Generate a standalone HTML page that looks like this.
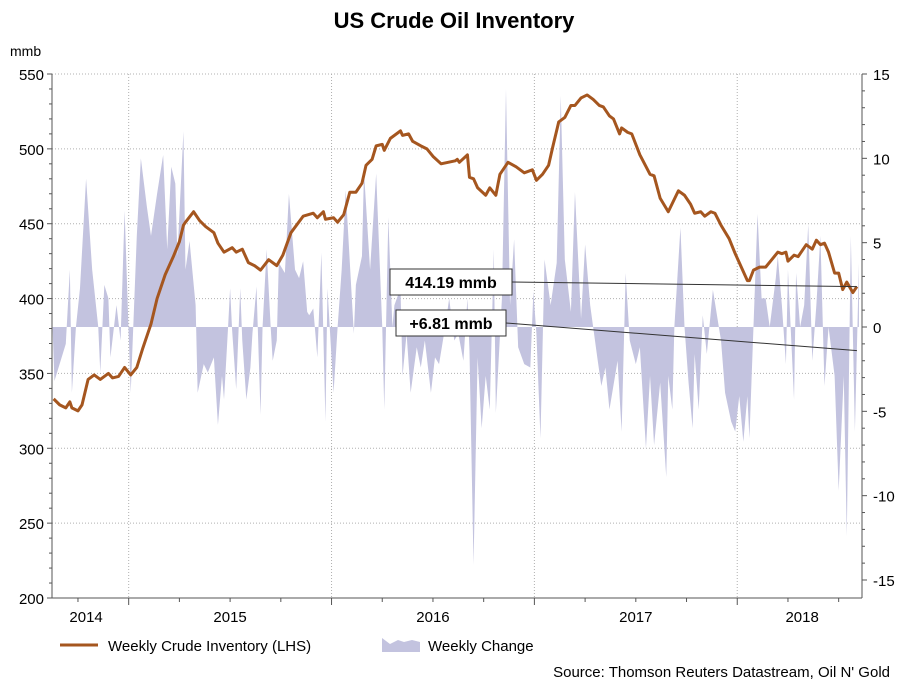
<!DOCTYPE html>
<html><head><meta charset="utf-8"><style>
body{margin:0;background:#fff;}
svg{display:block;font-family:"Liberation Sans",Arial,sans-serif;}
</style></head><body>
<svg id="chart" width="909" height="682" viewBox="0 0 909 682">
<text x="454" y="28" text-anchor="middle" font-size="22" font-weight="bold">US Crude Oil Inventory</text>
<text x="10" y="56" font-size="14">mmb</text>
<g id="grid"></g><g id="area"></g><g id="line"></g><g id="axes"></g><g id="annot"></g>
<g>
<line x1="60" y1="645" x2="98" y2="645" stroke="#a5561f" stroke-width="3"/>
<text x="108" y="651" font-size="15">Weekly Crude Inventory (LHS)</text>
<polygon points="382,652 382,638 390,644 398,640 404,642 412,640 420,642 420,652" fill="#c3c3df"/>
<text x="428" y="651" font-size="15">Weekly Change</text>
</g>
<text x="890" y="677" text-anchor="end" font-size="15">Source: Thomson Reuters Datastream, Oil N' Gold</text>
</svg>
<script>
const invDates=[2014.63,2014.66,2014.69,2014.71,2014.72,2014.75,2014.77,2014.80,2014.83,2014.86,2014.90,2014.92,2014.95,2014.98,2015.01,2015.04,2015.07,2015.11,2015.14,2015.18,2015.22,2015.25,2015.27,2015.28,2015.32,2015.35,2015.38,2015.42,2015.44,2015.47,2015.51,2015.53,2015.56,2015.59,2015.62,2015.65,2015.69,2015.73,2015.76,2015.80,2015.86,2015.91,2015.93,2015.96,2015.97,2016.01,2016.03,2016.06,2016.09,2016.12,2016.15,2016.17,2016.20,2016.22,2016.25,2016.26,2016.29,2016.34,2016.35,2016.38,2016.40,2016.44,2016.47,2016.50,2016.54,2016.61,2016.62,2016.63,2016.67,2016.68,2016.70,2016.72,2016.76,2016.78,2016.81,2016.83,2016.87,2016.91,2016.95,2016.99,2017.01,2017.04,2017.07,2017.09,2017.12,2017.15,2017.18,2017.20,2017.23,2017.26,2017.29,2017.32,2017.34,2017.37,2017.39,2017.42,2017.43,2017.46,2017.48,2017.52,2017.57,2017.59,2017.62,2017.66,2017.71,2017.74,2017.77,2017.79,2017.82,2017.84,2017.87,2017.89,2017.92,2017.96,2017.99,2018.02,2018.05,2018.06,2018.08,2018.11,2018.14,2018.17,2018.20,2018.22,2018.24,2018.25,2018.28,2018.30,2018.34,2018.37,2018.39,2018.41,2018.43,2018.45,2018.48,2018.50,2018.52,2018.54,2018.57,2018.59];
const invValues=[333,329,327,331,327,325,329,346,349,346,350,347,348,354,349,354,367,383,400,416,428,438,449,451,458,452,448,444,437,431,434,431,433,424,422,419,426,422,429,444,455,457,454,458,453,454,451,456,471,471,477,489,493,502,503,499,507,512,509,510,505,502,500,495,490,492,493,491,496,481,480,474,469,474,469,483,491,488,484,486,479,483,489,501,518,521,529,529,534,536,533,529,528,522,520,510,514,511,510,496,483,482,467,458,472,469,463,457,458,455,458,457,449,440,430,421,412,412,419,421,421,426,431,430,431,425,429,428,436,433,439,436,437,431,417,417,406,411,404,408];
const chgDates=[2014.625,2014.634,2014.69,2014.71,2014.72,2014.74,2014.76,2014.79,2014.82,2014.85,2014.86,2014.88,2014.90,2014.91,2014.94,2014.96,2014.98,2015.00,2015.01,2015.04,2015.06,2015.09,2015.11,2015.14,2015.17,2015.19,2015.21,2015.23,2015.24,2015.27,2015.28,2015.30,2015.33,2015.34,2015.37,2015.39,2015.42,2015.44,2015.46,2015.47,2015.49,2015.50,2015.51,2015.53,2015.55,2015.56,2015.58,2015.60,2015.61,2015.63,2015.65,2015.66,2015.68,2015.70,2015.71,2015.73,2015.74,2015.77,2015.79,2015.82,2015.84,2015.86,2015.88,2015.89,2015.91,2015.93,2015.95,2015.97,2015.98,2016.01,2016.03,2016.05,2016.07,2016.11,2016.12,2016.15,2016.16,2016.19,2016.22,2016.25,2016.26,2016.28,2016.30,2016.31,2016.34,2016.35,2016.37,2016.39,2016.42,2016.44,2016.46,2016.49,2016.51,2016.53,2016.56,2016.58,2016.605,2016.625,2016.65,2016.67,2016.68,2016.70,2016.72,2016.74,2016.76,2016.78,2016.80,2016.81,2016.84,2016.86,2016.88,2016.90,2016.92,2016.95,2016.98,2016.995,2017.01,2017.03,2017.05,2017.08,2017.11,2017.13,2017.15,2017.18,2017.20,2017.23,2017.25,2017.275,2017.31,2017.33,2017.35,2017.37,2017.41,2017.43,2017.45,2017.47,2017.50,2017.52,2017.55,2017.57,2017.59,2017.62,2017.65,2017.66,2017.68,2017.69,2017.72,2017.74,2017.76,2017.78,2017.79,2017.81,2017.83,2017.85,2017.88,2017.92,2017.94,2017.97,2017.99,2018.01,2018.03,2018.05,2018.06,2018.08,2018.10,2018.12,2018.14,2018.16,2018.19,2018.20,2018.22,2018.24,2018.25,2018.28,2018.29,2018.31,2018.33,2018.35,2018.37,2018.39,2018.41,2018.43,2018.45,2018.48,2018.50,2018.525,2018.54,2018.56,2018.58,2018.60];
const chgValues=[0,-3.2,-1,3.4,-3.9,0,2.3,8.8,3.4,0,-2.7,2.5,1.7,-1.8,1.3,-0.8,6.9,-0.4,-3.9,5.4,10,7.1,5.4,7.9,10.2,4.6,9.5,8.5,4.2,11.6,3.4,5.1,1.3,-3.9,-2.2,-2.7,-1.8,-5.8,-2.9,-4.3,0,2.3,-0.2,-3.7,2.3,-0.8,-4.3,-2.4,-0.4,2.4,-5.2,0,4.6,0,-2.0,-0.8,3.8,3.2,7.9,3.4,2.9,3.9,0.9,0.7,1.1,-1.8,4.4,-5.6,2.3,-3.9,0,3.4,8.1,-0.4,2.5,4.2,9.2,3.4,9.1,0,-4.9,6.5,0,1.3,2.3,-2.9,-0.4,-3.9,-1.2,-2.4,-0.8,-3.9,-1.8,-2.2,0,1.7,-0.8,-0.4,-2,1.7,-1.4,-14.1,-1.8,-6.0,-2.9,-4.9,4.6,-5.1,1.7,14.1,1.3,5.2,-1.2,-2.2,-2.4,2.1,-0.4,-6.6,4.0,1.3,3.8,13.7,4.0,0.9,8.0,0.5,4.9,1.3,-1.8,-3.5,-2.4,-4.9,-2,-6.2,3.2,-0.8,-2.2,-1.2,-7.2,-2.9,-7.0,-3.3,-8.9,-2.9,-4.9,0,5.9,0,-3.3,-6.0,-1.6,-4.9,0.7,-1.6,2.2,-0.8,-3.9,-5.6,-6.2,-4.1,-6.8,-4.1,-6.6,0,6.7,1.7,1.7,0,2.9,4.2,1.3,-2.2,3.4,-4.3,3.2,0,1.3,6.1,-2,1.3,5.4,-3.5,0,-2.9,-9.7,-2.9,-12.4,5.4,-6.2,3.8,-1];
const leftTicks=[200,250,300,350,400,450,500,550];
const rightTicks=[-15,-10,-5,0,5,10,15];
const yearLabels=["2014","2015","2016","2017","2018"];
const yearLabelPos=[2014.79,2015.5,2016.5,2017.5,2018.32];
const yearBounds=[2015,2016,2017,2018];
const lastInventory="414.19 mmb", lastChange="+6.81 mmb";

const X0=52,X1=862,YT=74,YB=598;
const tMin=2014.622,tMax=2018.615;
const xs=t=>X0+(t-tMin)/(tMax-tMin)*(X1-X0);
const yL=v=>YB-(v-200)/(550-200)*(YB-YT);
const yR=v=>327-v*(327-74)/15;
const NS="http://www.w3.org/2000/svg";
function mk(tag,attrs,parent){const e=document.createElementNS(NS,tag);for(const k in attrs)e.setAttribute(k,attrs[k]);document.getElementById(parent).appendChild(e);return e;}

// grid
leftTicks.forEach(v=>{if(v===200)return;
 const g=mk('line',{x1:X0,x2:X1,y1:yL(v),y2:yL(v),stroke:'#b0b0b0','stroke-dasharray':'1,2'},'grid');
 
 });
yearBounds.forEach(t=>{
 const g=mk('line',{x1:xs(t),x2:xs(t),y1:YT,y2:YB,stroke:'#b0b0b0','stroke-dasharray':'1,2'},'grid');
 
 });

// area
let pts=[xs(chgDates[0])+','+yR(0)];
chgDates.forEach((t,i)=>pts.push(xs(t)+','+yR(chgValues[i])));
pts.push(xs(chgDates[chgDates.length-1])+','+yR(0));
const ar=mk('polygon',{points:pts.join(' '),fill:'#c3c3df'},'area');



// line
const lp=invDates.map((t,i)=>xs(t)+','+yL(invValues[i])).join(' ');
const ln=mk('polyline',{points:lp,fill:'none',stroke:'#a5561f','stroke-width':3,'stroke-linejoin':'round'},'line');



// axes
const axl=mk('line',{x1:X0,x2:X0,y1:YT,y2:YB,stroke:'#555'},'axes');


const axr=mk('line',{x1:X1,x2:X1,y1:YT,y2:YB,stroke:'#555'},'axes');


const axb=mk('line',{x1:X0,x2:X1,y1:YB,y2:YB,stroke:'#555'},'axes');


for(let v=200;v<=550;v+=10){mk('line',{x1:X0-(v%50?3:5),x2:X0,y1:yL(v),y2:yL(v),stroke:'#555'},'axes');}
leftTicks.forEach(v=>{const t=mk('text',{x:X0-8,y:yL(v)+6,'text-anchor':'end','font-size':15},'axes');t.textContent=v;
 
 });
for(let v=-15;v<=15;v++){mk('line',{x1:X1,x2:X1+(v%5?3:5),y1:yR(v),y2:yR(v),stroke:'#555'},'axes');}
rightTicks.forEach(v=>{const t=mk('text',{x:X1+11,y:yR(v)+6,'font-size':15},'axes');t.textContent=v;
 
 });
for(let q=2014.75;q<=2018.6;q+=0.25){const big=Math.abs(q-Math.round(q))<0.01;mk('line',{x1:xs(q),x2:xs(q),y1:YB,y2:YB+(big?7:4),stroke:'#555'},'axes');}
yearLabels.forEach((s,i)=>{const t=mk('text',{x:xs(yearLabelPos[i]),y:622,'text-anchor':'middle','font-size':15},'axes');t.textContent=s;
 
 });

// annotations
const lastT=invDates[invDates.length-1];
function box(x,y,w,txt,tx,ty,name){
 mk('line',{x1:x+w,y1:y+13,x2:xs(tx),y2:ty,stroke:'#333','stroke-width':1},'annot');
 const r=mk('rect',{x:x,y:y,width:w,height:26,fill:'#fff',stroke:'#333'},'annot');
 
 
 const t=mk('text',{x:x+w/2,y:y+19,'text-anchor':'middle','font-size':16,'font-weight':'bold'},'annot');t.textContent=txt;
 
 
}
box(390,269,122,lastInventory,lastT,yL(invValues[invValues.length-1]),'inventory-callout');
box(396,310,110,lastChange,lastT,yR(-1.4),'change-callout');
</script>
</body></html>
